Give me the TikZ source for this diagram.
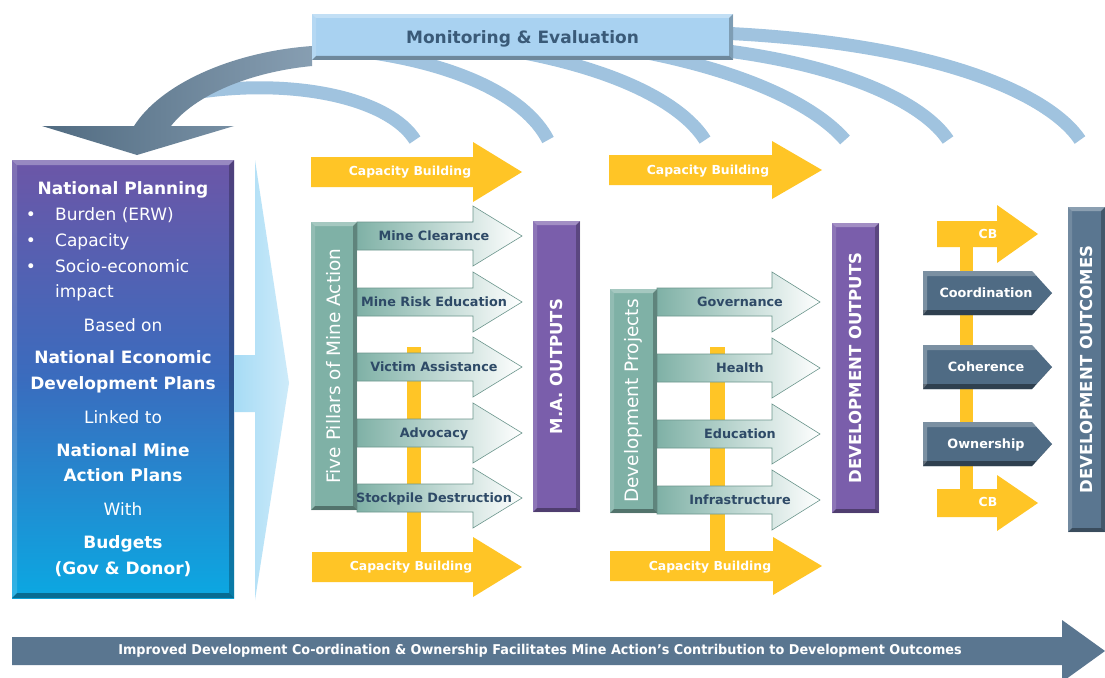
\documentclass[tikz,border=0pt]{standalone}
\usepackage{fontspec}
\setmainfont{DejaVu Sans}
\newfontfamily\narrowfont[FakeStretch=0.95]{DejaVu Sans}
\usetikzlibrary{calc,positioning}

\definecolor{cbyellow}{HTML}{FFC526}
\definecolor{mebar}{HTML}{A9D2F1}
\definecolor{metext}{HTML}{3A5A78}
\definecolor{band}{HTML}{5F7E98}
\definecolor{arcblue}{HTML}{A0C3DF}
\definecolor{plantop}{HTML}{6C56A7}
\definecolor{planmid}{HTML}{3A6CBE}
\definecolor{planbot}{HTML}{0BA8E2}
\definecolor{chevblue}{HTML}{A6DBF5}
\definecolor{pillarteal}{HTML}{7FB1A6}
\definecolor{outpurple}{HTML}{7A5EAB}
\definecolor{slate}{HTML}{4F6B84}
\definecolor{slatelight}{HTML}{5A7690}
\definecolor{labelink}{HTML}{2E4A67}

% block arrow: [style]{x start}{x head}{x tip}{y centre}{half shaft}{half head}
\newcommand{\blockarrow}[7][]{%
  \path[#1] ({#2},{#5-#6}) -- ({#3},{#5-#6}) -- ({#3},{#5-#7}) -- ({#4},{#5})
    -- ({#3},{#5+#7}) -- ({#3},{#5+#6}) -- ({#2},{#5+#6}) -- cycle;}

\tikzset{
  bevel/.style={path picture={
      \coordinate (bsw) at (path picture bounding box.south west);
      \coordinate (bse) at (path picture bounding box.south east);
      \coordinate (bne) at (path picture bounding box.north east);
      \coordinate (bnw) at (path picture bounding box.north west);
      \fill[white,opacity=.3] (bnw) -- (bne) -- ([shift={(-#1,-#1)}]bne) -- ([shift={(#1,-#1)}]bnw) -- cycle;
      \fill[white,opacity=.15] (bnw) -- (bsw) -- ([shift={(#1,#1)}]bsw) -- ([shift={(#1,-#1)}]bnw) -- cycle;
      \fill[black,opacity=.25] (bne) -- (bse) -- ([shift={(-#1,#1)}]bse) -- ([shift={(-#1,-#1)}]bne) -- cycle;
      \fill[black,opacity=.35] (bsw) -- (bse) -- ([shift={(-#1,#1)}]bse) -- ([shift={(#1,#1)}]bsw) -- cycle;
  }},
  bevel/.default=4pt,
  panel/.style={anchor=north west, inner sep=0pt, outer sep=0pt, bevel},
  plantext/.style={text=white, font=\fontsize{17}{20}\selectfont, text height=12.4pt, text depth=0pt, inner sep=0pt},
  cblabel/.style={text=white, font=\fontsize{12.4}{14}\selectfont\bfseries, text height=9pt, text depth=0pt, inner sep=0pt},
  pillarlabel/.style={text=labelink, font=\fontsize{12.8}{15}\selectfont\bfseries, text height=9.3pt, text depth=0pt, inner sep=0pt},
  mearc/.style={draw=arcblue, line width=13pt},
  pillarshade/.style={left color=pillarteal, right color=white, draw=pillarteal!85!black, line width=.6pt}
}

\begin{document}
\begin{tikzpicture}[x=1pt,y=-1pt]
  \useasboundingbox (0,0) rectangle (1105,677);
  \fill[white] (0,0) rectangle (1105,677);

  % monitoring arcs
  \draw[mearc] (200,92) .. controls (300,78) and (390,100) .. (415,140);
  \draw[mearc] (330,48) .. controls (450,58) and (525,95) .. (548,140);
  \draw[mearc] (450,42) .. controls (600,58) and (680,100) .. (705,140);
  \draw[mearc] (580,42) .. controls (735,62) and (815,105) .. (845,140);
  \draw[mearc] (720,50) .. controls (850,66) and (925,105) .. (948,140);
  \draw[mearc] (720,33) .. controls (940,43) and (1050,95) .. (1080,140);

  \shade[left color=band!85!black, right color=band!75!white]
    (312,46) .. controls (230,52) and (160,85) .. (134,126) -- (42,126) -- (137,155)
    -- (234,126) -- (171,126) .. controls (195,95) and (250,72) .. (312,66) -- cycle;

  \node[panel, fill=mebar, minimum width=421pt, minimum height=46pt, text=metext,
        font=\fontsize{17}{20}\selectfont\bfseries, text height=12.4pt, text depth=0pt] (monitor) at (312,14) {Monitoring \& Evaluation};

  % national planning
  \node[panel, top color=plantop, bottom color=planbot, middle color=planmid,
        minimum width=222pt, minimum height=438pt, bevel=5pt] (plan) at (12,160) {};
  \foreach \y/\t [count=\i] in {188/\textbf{National Planning}, 325/Based on,
      357/\textbf{National Economic}, 383/\textbf{Development Plans}, 417/Linked to,
      450/\textbf{National Mine}, 475/\textbf{Action Plans}, 509/With,
      542/\textbf{Budgets}, 568/\textbf{(Gov \& Donor)}}
    \node[plantext] (plan\i) at (123,\y) {\t};
  \foreach \y [count=\i] in {214,240,266}
    \node[plantext] (dot\i) at (31,\y) {\textbullet};
  \foreach \y/\t [count=\i] in {214/Burden (ERW), 240/Capacity, 266/Socio-economic, 291/impact}
    \node[plantext, anchor=west] (item\i) at (55,\y) {\t};

  \path[left color=chevblue, right color=chevblue!55!white]
    (234,355) -- (255,355) -- (255,160) -- (289,383) -- (255,600) -- (255,412) -- (234,412) -- cycle;

  % capacity building
  \fill[cbyellow] (407,347) rectangle (421,560);
  \fill[cbyellow] (710,347) rectangle (725,560);
  \fill[cbyellow] (960,233) rectangle (973,500);
  \blockarrow[fill=cbyellow]{311}{473}{522}{172}{15}{30}
  \blockarrow[fill=cbyellow]{312}{473}{522}{567}{15}{30}
  \blockarrow[fill=cbyellow]{609}{772}{822}{170}{15}{29}
  \blockarrow[fill=cbyellow]{610}{773}{822}{566}{15}{29}
  \blockarrow[fill=cbyellow]{937}{997}{1038}{234}{13}{29}
  \blockarrow[fill=cbyellow]{937}{997}{1038}{503}{14}{28}
  \node[cblabel] (cbA1) at (410,171) {Capacity Building};
  \node[cblabel] (cbA2) at (411,566) {Capacity Building};
  \node[cblabel] (cbB1) at (708,170) {Capacity Building};
  \node[cblabel] (cbB2) at (710,566) {Capacity Building};
  \node[cblabel] (cbC1) at (988,234) {CB};
  \node[cblabel] (cbC2) at (988,502) {CB};

  % mine action
  \foreach \y/\t [count=\i] in {236/Mine Clearance, 302/Mine Risk Education,
      367/Victim Assistance, 433/Advocacy, 498/Stockpile Destruction}{
    \blockarrow[pillarshade]{357}{473}{522}{\y}{14}{30}
    \node[pillarlabel] (pillar\i) at (434,\y) {\t};
  }
  \node[panel, fill=pillarteal, minimum width=46pt, minimum height=288pt, text=white,
        font=\fontsize{18.5}{20}\selectfont] (pillars) at (311,222) {\rotatebox{90}{Five Pillars of Mine Action}};
  \node[panel, fill=outpurple, minimum width=47pt, minimum height=291pt, text=white,
        font=\fontsize{16.5}{18}\selectfont\bfseries] (maout) at (533,221) {\rotatebox{90}{M.A. OUTPUTS}};

  % development
  \foreach \y/\t [count=\i] in {302/Governance, 368/Health, 434/Education, 500/Infrastructure}{
    \blockarrow[pillarshade]{657}{772}{820}{\y}{14}{30}
    \node[pillarlabel] (dev\i) at (740,\y) {\t};
  }
  \node[panel, fill=pillarteal, minimum width=47pt, minimum height=224pt, text=white,
        font=\fontsize{18.5}{20}\selectfont] (devproj) at (610,289) {\rotatebox{90}{Development Projects}};
  \node[panel, fill=outpurple, minimum width=47pt, minimum height=290pt, text=white,
        font=\fontsize{16.5}{18}\selectfont\bfseries] (devout) at (832,223) {\rotatebox{90}{DEVELOPMENT OUTPUTS}};

  % outcomes
  \foreach \y/\t [count=\i] in {293/Coordination, 367/Coherence, 444/Ownership}{
    \fill[slate] (923,\y-22) -- (1032,\y-22) -- (1052,\y) -- (1032,\y+22) -- (923,\y+22) -- cycle;
    \fill[slate!60!black] (923,\y+17) -- (1036.5,\y+17) -- (1052,\y) -- (1032,\y+22) -- (923,\y+22) -- cycle;
    \fill[white,opacity=.25] (923,\y-22) -- (1032,\y-22) -- (1036.5,\y-17) -- (927,\y-17) -- (927,\y+17) -- (923,\y+22) -- cycle;
    \node[cblabel, font=\fontsize{12.8}{15}\selectfont\bfseries] (link\i) at (986,\y) {\t};
  }
  \node[panel, fill=slatelight, minimum width=37pt, minimum height=325pt, text=white,
        font=\fontsize{16.5}{18}\selectfont\bfseries] (outcomes) at (1068,207) {\rotatebox{90}{DEVELOPMENT OUTCOMES}};

  % banner
  \blockarrow[fill=slatelight]{12}{1062}{1105}{651}{14}{31}
  \node[text=white, font=\narrowfont\bfseries\fontsize{13.5}{15}\selectfont, inner sep=0pt] (banner) at (540,651)
    {Improved Development Co-ordination \& Ownership Facilitates Mine Action’s Contribution to Development Outcomes};
\end{tikzpicture}
\end{document}
